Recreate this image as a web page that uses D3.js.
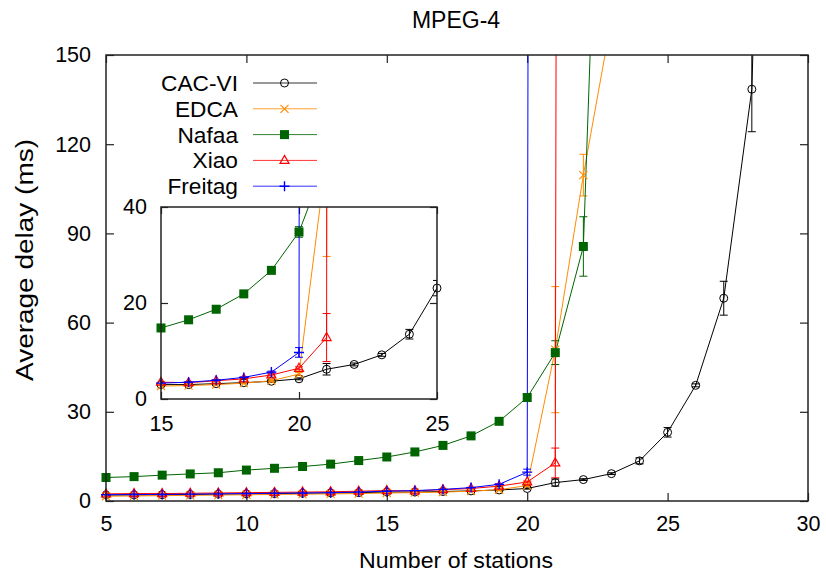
<!DOCTYPE html>
<html><head><meta charset="utf-8">
<script src="https://cdn.jsdelivr.net/npm/d3@7"></script>
<style>body{margin:0;background:#fff} text{font-family:"Liberation Sans",Arial,sans-serif;fill:#000}</style>
</head><body><svg id="c" width="826" height="575"></svg>
<script>
// ---- data ----
const stations = [5,6,7,8,9,10,11,12,13,14,15,16,17,18,19,20,21,22,23,24,25,26,27,28,29];
const cacvi    = [2.0,2.0,2.1,2.2,2.3,2.4,2.5,2.6,2.7,2.8,3.0,3.0,3.2,3.4,3.7,4.2,6.2,7.2,9.2,13.5,23.1,38.9,68.2,138.5,460];
const cacviErr = [0.1,0.1,0.1,0.1,0.1,0.1,0.1,0.1,0.1,0.1,0.1,0.1,0.1,0.1,0.2,0.2,1.2,0.3,0.3,1.0,1.6,0.5,5.7,14.3,0];
const edca     = [1.6,1.7,1.8,1.9,2.0,2.1,2.2,2.3,2.4,2.5,2.7,2.8,3.0,3.3,3.8,5.2,50.9,109.6,162];
const edcaErr  = [0.1,0.1,0.1,0.1,0.1,0.1,0.1,0.1,0.1,0.1,0.1,0.1,0.1,0.1,0.2,0.3,21.2,7.0,0];
const nafaa    = [7.9,8.2,8.7,9.1,9.5,10.4,11.0,11.6,12.4,13.6,14.8,16.5,18.7,21.9,26.8,34.8,49.9,85.6,354];
const nafaaErr = [0.1,0.1,0.1,0.1,0.1,0.1,0.1,0.1,0.1,0.1,0.2,0.2,0.2,0.2,0.3,1.1,4.0,10.0,0];
const xiao     = [2.4,2.5,2.5,2.6,2.7,2.8,2.9,3.0,3.1,3.3,3.5,3.4,3.8,4.2,5.0,6.4,12.8,5000];
const xiaoErr  = [0.1,0.1,0.1,0.1,0.1,0.1,0.1,0.1,0.1,0.1,0.1,0.1,0.1,0.1,0.2,0.3,5.0,0];
const freitag    = [2.1,2.2,2.2,2.3,2.4,2.5,2.6,2.7,2.8,3.0,3.3,3.5,3.9,4.5,5.6,9.7,5000];
const freitagErr = [0.1,0.1,0.1,0.1,0.1,0.1,0.1,0.1,0.1,0.1,0.1,0.1,0.1,0.1,0.2,1.0,0];
const seriesNames = ["CAC-VI","EDCA","Nafaa","Xiao","Freitag"];
const xTicks = [5,10,15,20,25,30];
const yTicks = [0,30,60,90,120,150];
const insetXTicks = [15,20,25];
const insetYTicks = [0,20,40];
const title = "MPEG-4", xLabel = "Number of stations", yLabel = "Average delay (ms)";

const colors = ["#000000","#ff8c00","#006400","#ff0000","#0000ff"];
const markers = ["circle","cross","square","triangle","plus"];
const vals = [cacvi,edca,nafaa,xiao,freitag];
const errs = [cacviErr,edcaErr,nafaaErr,xiaoErr,freitagErr];
const series = seriesNames.map((n,i)=>({name:n,color:colors[i],marker:markers[i],
  pts: vals[i].map((v,j)=>({x:stations[j],y:v,e:errs[i][j]}))}));

const svg = d3.select("#c");
const FONT = "Liberation Sans, Arial, sans-serif";

function marker(g, type, color, cx, cy){
  if(type==="circle") g.append("circle").attr("cx",cx).attr("cy",cy).attr("r",4).attr("fill","none").attr("stroke",color).attr("stroke-width",1);
  else if(type==="cross") g.append("path").attr("d",`M${cx-4},${cy-4}L${cx+4},${cy+4}M${cx-4},${cy+4}L${cx+4},${cy-4}`).attr("stroke",color).attr("stroke-width",1.2).attr("fill","none");
  else if(type==="square") g.append("rect").attr("x",cx-4.5).attr("y",cy-4.5).attr("width",9).attr("height",9).attr("fill",color);
  else if(type==="triangle") g.append("path").attr("d",`M${cx},${cy-5}L${cx+4.5},${cy+3}L${cx-4.5},${cy+3}Z`).attr("stroke",color).attr("stroke-width",1.2).attr("fill","none");
  else if(type==="plus") g.append("path").attr("d",`M${cx-5},${cy}H${cx+5}M${cx},${cy-5}V${cy+5}`).attr("stroke",color).attr("stroke-width",1.4).attr("fill","none");
}

function panel(opt){
  const {x,y,id,xt,yt,tick,xpad,ypad} = opt;
  const [x0,x1]=x.range(), [y0,y1]=y.range();
  const g = svg.append("g");
  g.append("rect").attr("x",x0).attr("y",y1).attr("width",x1-x0).attr("height",y0-y1).attr("fill","#fff");
  svg.append("defs").append("clipPath").attr("id",id).append("rect")
    .attr("x",x0).attr("y",y1).attr("width",x1-x0).attr("height",y0-y1);
  const ax = (a)=>a.tickSizeOuter(0);
  const gb = g.append("g").attr("transform",`translate(0,${y0})`).call(ax(d3.axisBottom(x).tickValues(xt).tickSize(-tick).tickPadding(xpad)));
  const gt = g.append("g").attr("transform",`translate(0,${y1})`).call(ax(d3.axisTop(x).tickValues(xt).tickSize(-tick).tickFormat("")));
  const gl = g.append("g").attr("transform",`translate(${x0},0)`).call(ax(d3.axisLeft(y).tickValues(yt).tickSize(-tick).tickPadding(ypad)));
  const gr = g.append("g").attr("transform",`translate(${x1},0)`).call(ax(d3.axisRight(y).tickValues(yt).tickSize(-tick).tickFormat("")));
  [gb,gt,gl,gr].forEach(a=>{a.select(".domain").remove();a.selectAll("line").attr("stroke","#222").attr("stroke-width",1.2);
    a.selectAll("text").attr("font-family",FONT).attr("font-size",21.5).attr("fill","#000");});
  const dg = g.append("g").attr("clip-path",`url(#${id})`);
  const line = d3.line().x(d=>x(d.x)).y(d=>y(d.y));
  const [dx0,dx1]=x.domain(),[dy0,dy1]=y.domain();
  series.forEach(s=>{
    const sg = dg.append("g");
    s.pts.forEach(p=>{
      if(!p.e) return;
      const cx=x(p.x), ya=y(p.y-p.e), yb=y(p.y+p.e);
      sg.append("path").attr("d",`M${cx},${ya}V${yb}M${cx-4},${ya}H${cx+4}M${cx-4},${yb}H${cx+4}`)
        .attr("stroke",s.color).attr("stroke-width",1).attr("fill","none");
    });
    sg.append("path").datum(s.pts).attr("d",line).attr("fill","none").attr("stroke",s.color).attr("stroke-width",1);
    const mg = g.append("g");
    s.pts.filter(p=>p.x>=dx0&&p.x<=dx1&&p.y>=dy0&&p.y<=dy1).forEach(p=>marker(mg,s.marker,s.color,x(p.x),y(p.y)));
  });
  g.append("rect").attr("x",x0).attr("y",y1).attr("width",x1-x0).attr("height",y0-y1)
    .attr("fill","none").attr("stroke","#222").attr("stroke-width",1.5);
  return g;
}

// main
const x = d3.scaleLinear().domain([5,30]).range([106,808]);
const y = d3.scaleLinear().domain([0,150]).range([501,55]);
panel({x,y,id:"clipMain",xt:xTicks,yt:yTicks,tick:8,xpad:15,ypad:15});

// legend
const lg = svg.append("g");
series.forEach((s,i)=>{
  const cy = 83 + i*25.8;
  lg.append("text").attr("x",238).attr("y",cy+8).attr("text-anchor","end")
    .attr("font-family",FONT).attr("font-size",22.7).text(s.name);
  lg.append("line").attr("x1",253).attr("x2",317).attr("y1",cy).attr("y2",cy)
    .attr("stroke",s.color).attr("stroke-width",1).attr("opacity",0.8);
  marker(lg,s.marker,s.color,284.5,cy);
});

// inset
const xi = d3.scaleLinear().domain([15,25]).range([161,437]);
const yi = d3.scaleLinear().domain([0,40]).range([399,207]);
panel({x:xi,y:yi,id:"clipInset",xt:insetXTicks,yt:insetYTicks,tick:7,xpad:17,ypad:14});

// title & labels
svg.append("text").attr("x",456).attr("y",28).attr("text-anchor","middle")
  .attr("font-family",FONT).attr("font-size",23).text(title);
svg.append("text").attr("x",456).attr("y",568).attr("text-anchor","middle")
  .attr("font-family",FONT).attr("font-size",22).attr("textLength",194).attr("lengthAdjust","spacingAndGlyphs").text(xLabel);
svg.append("text").attr("transform","translate(33,260) rotate(-90)").attr("text-anchor","middle")
  .attr("font-family",FONT).attr("font-size",23).attr("textLength",242).attr("lengthAdjust","spacingAndGlyphs").text(yLabel);
</script></body></html>
